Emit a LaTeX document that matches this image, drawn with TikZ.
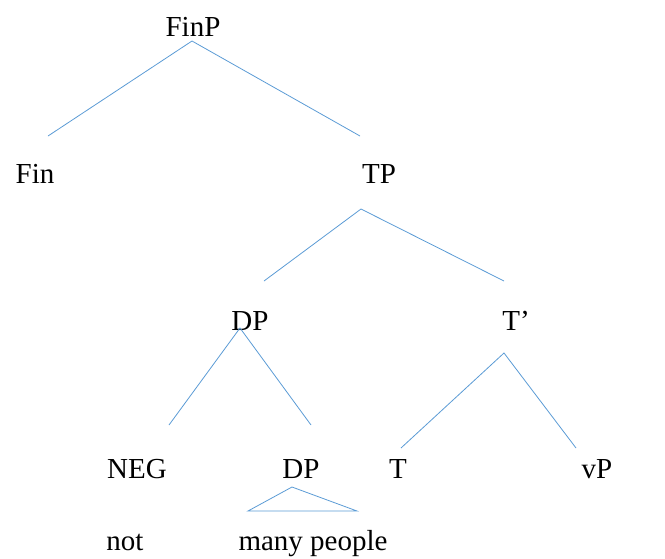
\documentclass[tikz,border=0pt]{standalone}
\usepackage{fontspec}
\setmainfont{Liberation Serif}
\definecolor{branch}{RGB}{91,155,213}
\begin{document}
\begin{tikzpicture}[x=1pt,y=-1pt,
  lbl/.style={anchor=base,inner sep=0pt,font=\fontsize{29}{34}\selectfont},
  edge/.style={draw=branch,line width=0.8pt}]
\useasboundingbox (0,0) rectangle (665,558);
% labels
\node[lbl] (finp) at (193,36) {FinP};
\node[lbl] (fin) at (35,183) {Fin};
\node[lbl] (tp) at (379,183) {TP};
\node[lbl] (dp1) at (250,330) {DP};
\node[lbl] (tbar) at (516,330) {T’};
\node[lbl] (neg) at (137,478) {NEG};
\node[lbl] (dp2) at (301,478) {DP};
\node[lbl] (t) at (398,478) {T};
\node[lbl] (vp) at (597,478) {vP};
\node[lbl] (not) at (125,550) {not};
\node[lbl] (mp) at (313,550) {many people};
% branch points
\coordinate (finpA) at (192,41);
\coordinate (finL) at (48,136);
\coordinate (tpL) at (360,136);
\coordinate (tpA) at (361,209);
\coordinate (dp1L) at (264,281);
\coordinate (tbarL) at (504,281);
\coordinate (dp1A) at (240,328);
\coordinate (negL) at (169,425);
\coordinate (dp2L) at (311,425);
\coordinate (tbarA) at (504,353);
\coordinate (tL) at (401,448);
\coordinate (vpL) at (576,448);
\coordinate (triA) at (292,487);
\coordinate (triL) at (248,511);
\coordinate (triR) at (357,511);
% branches
\draw[edge] (finL) -- (finpA) -- (tpL);
\draw[edge] (dp1L) -- (tpA) -- (tbarL);
\draw[edge] (negL) -- (dp1A) -- (dp2L);
\draw[edge] (tL) -- (tbarA) -- (vpL);
\draw[edge] (triA) -- (triL) -- (triR) -- cycle;
\end{tikzpicture}
\end{document}
